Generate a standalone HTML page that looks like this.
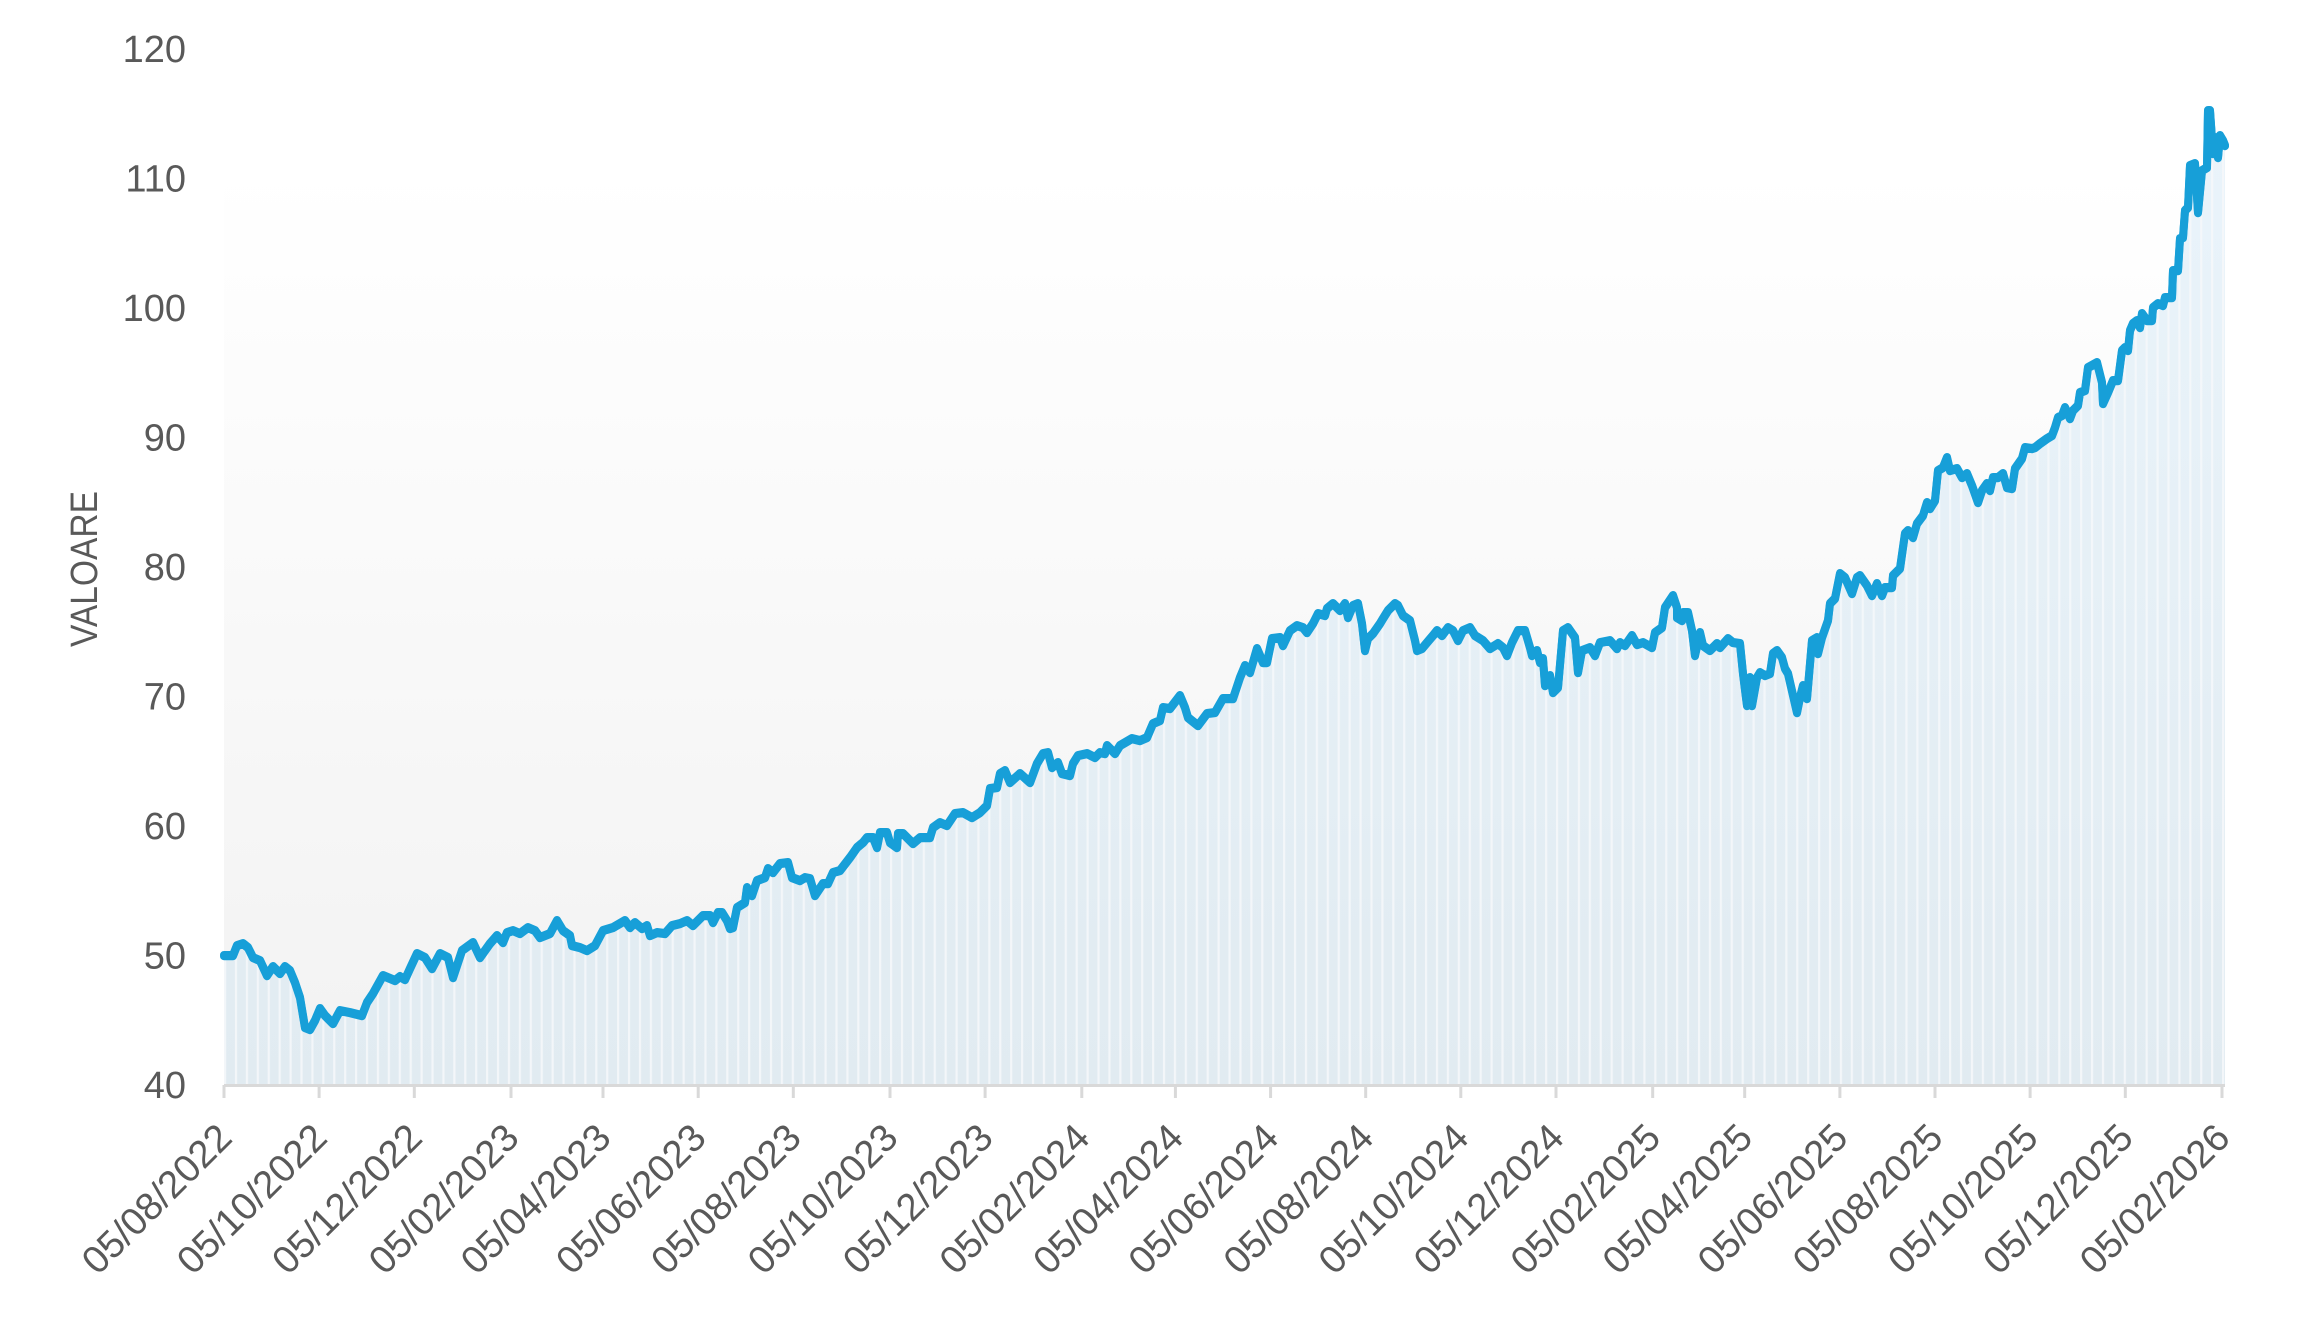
<!DOCTYPE html>
<html>
<head>
<meta charset="utf-8">
<style>
html,body{margin:0;padding:0;background:#ffffff;}
svg{display:block;}
text{font-family:"Liberation Sans",sans-serif;fill:#595959;}
</style>
</head>
<body>
<svg width="2309" height="1320" viewBox="0 0 2309 1320" xmlns="http://www.w3.org/2000/svg">
<defs>
<linearGradient id="bg" x1="0" y1="0" x2="0" y2="1">
<stop offset="0" stop-color="#ffffff"/>
<stop offset="1" stop-color="#f2f2f2"/>
</linearGradient>
<linearGradient id="ar" gradientUnits="userSpaceOnUse" x1="0" y1="100" x2="0" y2="1085">
<stop offset="0" stop-color="#eaf4fb"/>
<stop offset="1" stop-color="#e1ebf1"/>
</linearGradient>
<pattern id="st" patternUnits="userSpaceOnUse" x="224" y="0" width="10.918" height="20">
<rect x="0" y="0" width="2.2" height="20" fill="#f6f8fa" fill-opacity="0.85"/>
</pattern>
<clipPath id="areaClip">
<path d="M224,1085 L224,955 L233,955 L237,945 L243,943 L248,947 L253,957 L260,960 L267,975 L273,966 L280,973 L285,966 L290,970 L295,982 L300,997 L305,1027 L310,1029 L315,1020 L320,1008 L325,1015 L333,1023 L340,1010 L350,1012 L362,1015 L367,1002 L373,993 L383,975 L395,980 L400,976 L405,979 L410,968 L417,953 L425,957 L432,968 L440,953 L448,957 L453,977 L462,950 L473,942 L480,957 L490,943 L497,935 L503,942 L507,932 L513,930 L520,933 L528,927 L535,930 L540,937 L550,933 L557,920 L563,930 L570,935 L572,945 L580,947 L587,950 L595,945 L603,930 L613,927 L625,920 L630,927 L635,922 L642,928 L647,925 L650,935 L657,932 L665,933 L672,925 L680,923 L687,920 L693,925 L703,915 L710,915 L713,922 L718,912 L722,912 L727,920 L730,928 L733,927 L737,907 L745,902 L747,887 L752,895 L757,880 L765,877 L768,868 L773,872 L780,863 L788,862 L792,877 L800,880 L805,877 L810,878 L815,895 L823,883 L828,883 L833,872 L840,870 L850,857 L857,847 L863,842 L867,837 L873,837 L877,847 L880,832 L887,832 L890,842 L897,847 L898,833 L903,833 L907,837 L913,843 L920,837 L930,837 L933,827 L940,822 L947,825 L955,813 L963,812 L972,817 L980,812 L987,805 L990,788 L997,787 L1000,773 L1005,770 L1010,782 L1020,773 L1030,782 L1037,763 L1043,753 L1048,752 L1052,767 L1058,762 L1062,773 L1070,775 L1073,763 L1078,755 L1087,753 L1095,757 L1100,752 L1105,753 L1107,745 L1115,753 L1120,745 L1132,738 L1140,740 L1147,737 L1153,723 L1160,720 L1163,707 L1170,708 L1180,695 L1185,707 L1188,717 L1198,725 L1207,713 L1215,712 L1223,698 L1233,698 L1240,677 L1245,665 L1250,672 L1257,648 L1263,662 L1267,662 L1272,638 L1280,637 L1283,645 L1290,630 L1297,625 L1303,627 L1307,632 L1313,623 L1318,613 L1325,615 L1327,608 L1333,603 L1340,610 L1345,603 L1348,617 L1353,605 L1358,603 L1362,623 L1365,650 L1368,638 L1373,633 L1380,623 L1383,618 L1388,610 L1395,603 L1398,605 L1403,615 L1410,620 L1415,640 L1417,650 L1422,648 L1427,642 L1433,635 L1437,630 L1442,635 L1448,627 L1453,630 L1458,640 L1463,630 L1470,627 L1475,635 L1483,640 L1490,648 L1498,643 L1503,647 L1507,655 L1512,642 L1518,630 L1522,630 L1525,630 L1530,647 L1532,655 L1537,650 L1540,662 L1543,658 L1545,685 L1550,675 L1553,692 L1558,687 L1563,630 L1568,627 L1575,637 L1578,672 L1582,650 L1590,647 L1595,655 L1600,642 L1610,640 L1617,648 L1620,642 L1625,645 L1632,635 L1637,644 L1643,642 L1652,647 L1655,632 L1662,627 L1665,607 L1673,595 L1677,607 L1677,617 L1682,620 L1683,612 L1688,612 L1692,630 L1695,655 L1700,632 L1703,645 L1710,650 L1717,643 L1720,647 L1728,638 L1733,642 L1740,643 L1743,673 L1747,705 L1750,677 L1752,705 L1757,677 L1760,672 L1765,675 L1770,673 L1773,653 L1777,650 L1782,657 L1785,668 L1788,673 L1797,712 L1800,697 L1803,685 L1807,698 L1812,640 L1817,637 L1818,653 L1822,637 L1828,620 L1830,603 L1835,598 L1840,573 L1845,577 L1852,593 L1857,577 L1860,575 L1867,585 L1872,595 L1877,583 L1882,595 L1885,587 L1892,587 L1893,575 L1900,568 L1905,533 L1908,530 L1913,537 L1917,523 L1923,515 L1927,502 L1930,508 L1935,500 L1938,470 L1943,467 L1947,457 L1950,470 L1957,468 L1962,477 L1967,473 L1972,485 L1978,502 L1982,490 L1987,483 L1990,490 L1993,477 L1998,477 L2003,473 L2007,487 L2012,488 L2015,468 L2022,458 L2025,447 L2032,448 L2035,447 L2040,443 L2047,438 L2052,435 L2055,427 L2058,417 L2062,415 L2065,407 L2070,418 L2073,410 L2078,405 L2080,392 L2085,390 L2088,367 L2097,362 L2102,382 L2103,403 L2108,392 L2113,380 L2118,380 L2122,350 L2125,347 L2128,350 L2130,330 L2133,323 L2137,320 L2140,327 L2142,313 L2147,320 L2152,320 L2153,307 L2158,303 L2163,305 L2165,297 L2172,297 L2173,270 L2178,270 L2180,238 L2183,237 L2185,210 L2188,207 L2190,165 L2195,163 L2198,212 L2202,170 L2207,167 L2208,110 L2210,110 L2213,153 L2217,137 L2218,157 L2220,135 L2223,140 L2225,145 L2225,1085 Z"/>
</clipPath>
</defs>

<!-- plot background -->
<rect x="224" y="169" width="2001" height="916" fill="url(#bg)"/>

<!-- area fill -->
<g clip-path="url(#areaClip)">
<rect x="224" y="90" width="2001" height="995" fill="url(#ar)"/>
<rect x="224" y="90" width="2001" height="995" fill="url(#st)"/>
</g>

<!-- series line -->
<g fill="none" stroke-linejoin="round" stroke-linecap="round">
<polyline id="ln" stroke="#179fd8" stroke-width="8" points="224,955 233,955 237,945 243,943 248,947 253,957 260,960 267,975 273,966 280,973 285,966 290,970 295,982 300,997 305,1027 310,1029 315,1020 320,1008 325,1015 333,1023 340,1010 350,1012 362,1015 367,1002 373,993 383,975 395,980 400,976 405,979 410,968 417,953 425,957 432,968 440,953 448,957 453,977 462,950 473,942 480,957 490,943 497,935 503,942 507,932 513,930 520,933 528,927 535,930 540,937 550,933 557,920 563,930 570,935 572,945 580,947 587,950 595,945 603,930 613,927 625,920 630,927 635,922 642,928 647,925 650,935 657,932 665,933 672,925 680,923 687,920 693,925 703,915 710,915 713,922 718,912 722,912 727,920 730,928 733,927 737,907 745,902 747,887 752,895 757,880 765,877 768,868 773,872 780,863 788,862 792,877 800,880 805,877 810,878 815,895 823,883 828,883 833,872 840,870 850,857 857,847 863,842 867,837 873,837 877,847 880,832 887,832 890,842 897,847 898,833 903,833 907,837 913,843 920,837 930,837 933,827 940,822 947,825 955,813 963,812 972,817 980,812 987,805 990,788 997,787 1000,773 1005,770 1010,782 1020,773 1030,782 1037,763 1043,753 1048,752 1052,767 1058,762 1062,773 1070,775 1073,763 1078,755 1087,753 1095,757 1100,752 1105,753 1107,745 1115,753 1120,745 1132,738 1140,740 1147,737 1153,723 1160,720 1163,707 1170,708 1180,695 1185,707 1188,717 1198,725 1207,713 1215,712 1223,698 1233,698 1240,677 1245,665 1250,672 1257,648 1263,662 1267,662 1272,638 1280,637 1283,645 1290,630 1297,625 1303,627 1307,632 1313,623 1318,613 1325,615 1327,608 1333,603 1340,610 1345,603 1348,617 1353,605 1358,603 1362,623 1365,650 1368,638 1373,633 1380,623 1383,618 1388,610 1395,603 1398,605 1403,615 1410,620 1415,640 1417,650 1422,648 1427,642 1433,635 1437,630 1442,635 1448,627 1453,630 1458,640 1463,630 1470,627 1475,635 1483,640 1490,648 1498,643 1503,647 1507,655 1512,642 1518,630 1522,630 1525,630 1530,647 1532,655 1537,650 1540,662 1543,658 1545,685 1550,675 1553,692 1558,687 1563,630 1568,627 1575,637 1578,672 1582,650 1590,647 1595,655 1600,642 1610,640 1617,648 1620,642 1625,645 1632,635 1637,644 1643,642 1652,647 1655,632 1662,627 1665,607 1673,595 1677,607 1677,617 1682,620 1683,612 1688,612 1692,630 1695,655 1700,632 1703,645 1710,650 1717,643 1720,647 1728,638 1733,642 1740,643 1743,673 1747,705 1750,677 1752,705 1757,677 1760,672 1765,675 1770,673 1773,653 1777,650 1782,657 1785,668 1788,673 1797,712 1800,697 1803,685 1807,698 1812,640 1817,637 1818,653 1822,637 1828,620 1830,603 1835,598 1840,573 1845,577 1852,593 1857,577 1860,575 1867,585 1872,595 1877,583 1882,595 1885,587 1892,587 1893,575 1900,568 1905,533 1908,530 1913,537 1917,523 1923,515 1927,502 1930,508 1935,500 1938,470 1943,467 1947,457 1950,470 1957,468 1962,477 1967,473 1972,485 1978,502 1982,490 1987,483 1990,490 1993,477 1998,477 2003,473 2007,487 2012,488 2015,468 2022,458 2025,447 2032,448 2035,447 2040,443 2047,438 2052,435 2055,427 2058,417 2062,415 2065,407 2070,418 2073,410 2078,405 2080,392 2085,390 2088,367 2097,362 2102,382 2103,403 2108,392 2113,380 2118,380 2122,350 2125,347 2128,350 2130,330 2133,323 2137,320 2140,327 2142,313 2147,320 2152,320 2153,307 2158,303 2163,305 2165,297 2172,297 2173,270 2178,270 2180,238 2183,237 2185,210 2188,207 2190,165 2195,163 2198,212 2202,170 2207,167 2208,110 2210,110 2213,153 2217,137 2218,157 2220,135 2223,140 2225,145"/>
<use href="#ln" stroke="#4ab4e1" stroke-width="3.5" transform="translate(0,1.2)"/>
</g>

<!-- x axis -->
<line x1="224" y1="1085.5" x2="2225" y2="1085.5" stroke="#d9d9d9" stroke-width="3"/>
<g stroke="#d9d9d9" stroke-width="3">
<line x1="224" y1="1085" x2="224" y2="1098"/>
<line x1="319.1" y1="1085" x2="319.1" y2="1098"/>
<line x1="414.3" y1="1085" x2="414.3" y2="1098"/>
<line x1="511" y1="1085" x2="511" y2="1098"/>
<line x1="603" y1="1085" x2="603" y2="1098"/>
<line x1="698.2" y1="1085" x2="698.2" y2="1098"/>
<line x1="793.3" y1="1085" x2="793.3" y2="1098"/>
<line x1="890" y1="1085" x2="890" y2="1098"/>
<line x1="985.1" y1="1085" x2="985.1" y2="1098"/>
<line x1="1081.8" y1="1085" x2="1081.8" y2="1098"/>
<line x1="1175.4" y1="1085" x2="1175.4" y2="1098"/>
<line x1="1270.6" y1="1085" x2="1270.6" y2="1098"/>
<line x1="1365.7" y1="1085" x2="1365.7" y2="1098"/>
<line x1="1460.8" y1="1085" x2="1460.8" y2="1098"/>
<line x1="1556" y1="1085" x2="1556" y2="1098"/>
<line x1="1652.7" y1="1085" x2="1652.7" y2="1098"/>
<line x1="1744.7" y1="1085" x2="1744.7" y2="1098"/>
<line x1="1839.9" y1="1085" x2="1839.9" y2="1098"/>
<line x1="1935" y1="1085" x2="1935" y2="1098"/>
<line x1="2030.1" y1="1085" x2="2030.1" y2="1098"/>
<line x1="2125.3" y1="1085" x2="2125.3" y2="1098"/>
<line x1="2222" y1="1085" x2="2222" y2="1098"/>
</g>

<!-- y labels -->
<g font-size="38" text-anchor="end">
<text x="186" y="62">120</text>
<text x="186" y="191.5">110</text>
<text x="186" y="321">100</text>
<text x="186" y="450.5">90</text>
<text x="186" y="580">80</text>
<text x="186" y="709.5">70</text>
<text x="186" y="839">60</text>
<text x="186" y="968.5">50</text>
<text x="186" y="1098">40</text>
</g>

<!-- y axis title -->
<text transform="translate(97,569) rotate(-90)" x="0" y="0" font-size="38" text-anchor="middle" textLength="156" lengthAdjust="spacingAndGlyphs">VALOARE</text>

<!-- x labels -->
<g font-size="38.5" text-anchor="end">
<text transform="translate(234,1140) rotate(-45)">05/08/2022</text>
<text transform="translate(329.1,1140) rotate(-45)">05/10/2022</text>
<text transform="translate(424.3,1140) rotate(-45)">05/12/2022</text>
<text transform="translate(521,1140) rotate(-45)">05/02/2023</text>
<text transform="translate(613,1140) rotate(-45)">05/04/2023</text>
<text transform="translate(708.2,1140) rotate(-45)">05/06/2023</text>
<text transform="translate(803.3,1140) rotate(-45)">05/08/2023</text>
<text transform="translate(900,1140) rotate(-45)">05/10/2023</text>
<text transform="translate(995.1,1140) rotate(-45)">05/12/2023</text>
<text transform="translate(1091.8,1140) rotate(-45)">05/02/2024</text>
<text transform="translate(1185.4,1140) rotate(-45)">05/04/2024</text>
<text transform="translate(1280.6,1140) rotate(-45)">05/06/2024</text>
<text transform="translate(1375.7,1140) rotate(-45)">05/08/2024</text>
<text transform="translate(1470.8,1140) rotate(-45)">05/10/2024</text>
<text transform="translate(1566,1140) rotate(-45)">05/12/2024</text>
<text transform="translate(1662.7,1140) rotate(-45)">05/02/2025</text>
<text transform="translate(1754.7,1140) rotate(-45)">05/04/2025</text>
<text transform="translate(1849.9,1140) rotate(-45)">05/06/2025</text>
<text transform="translate(1945,1140) rotate(-45)">05/08/2025</text>
<text transform="translate(2040.1,1140) rotate(-45)">05/10/2025</text>
<text transform="translate(2135.3,1140) rotate(-45)">05/12/2025</text>
<text transform="translate(2232,1140) rotate(-45)">05/02/2026</text>
</g>
</svg>
</body>
</html>
